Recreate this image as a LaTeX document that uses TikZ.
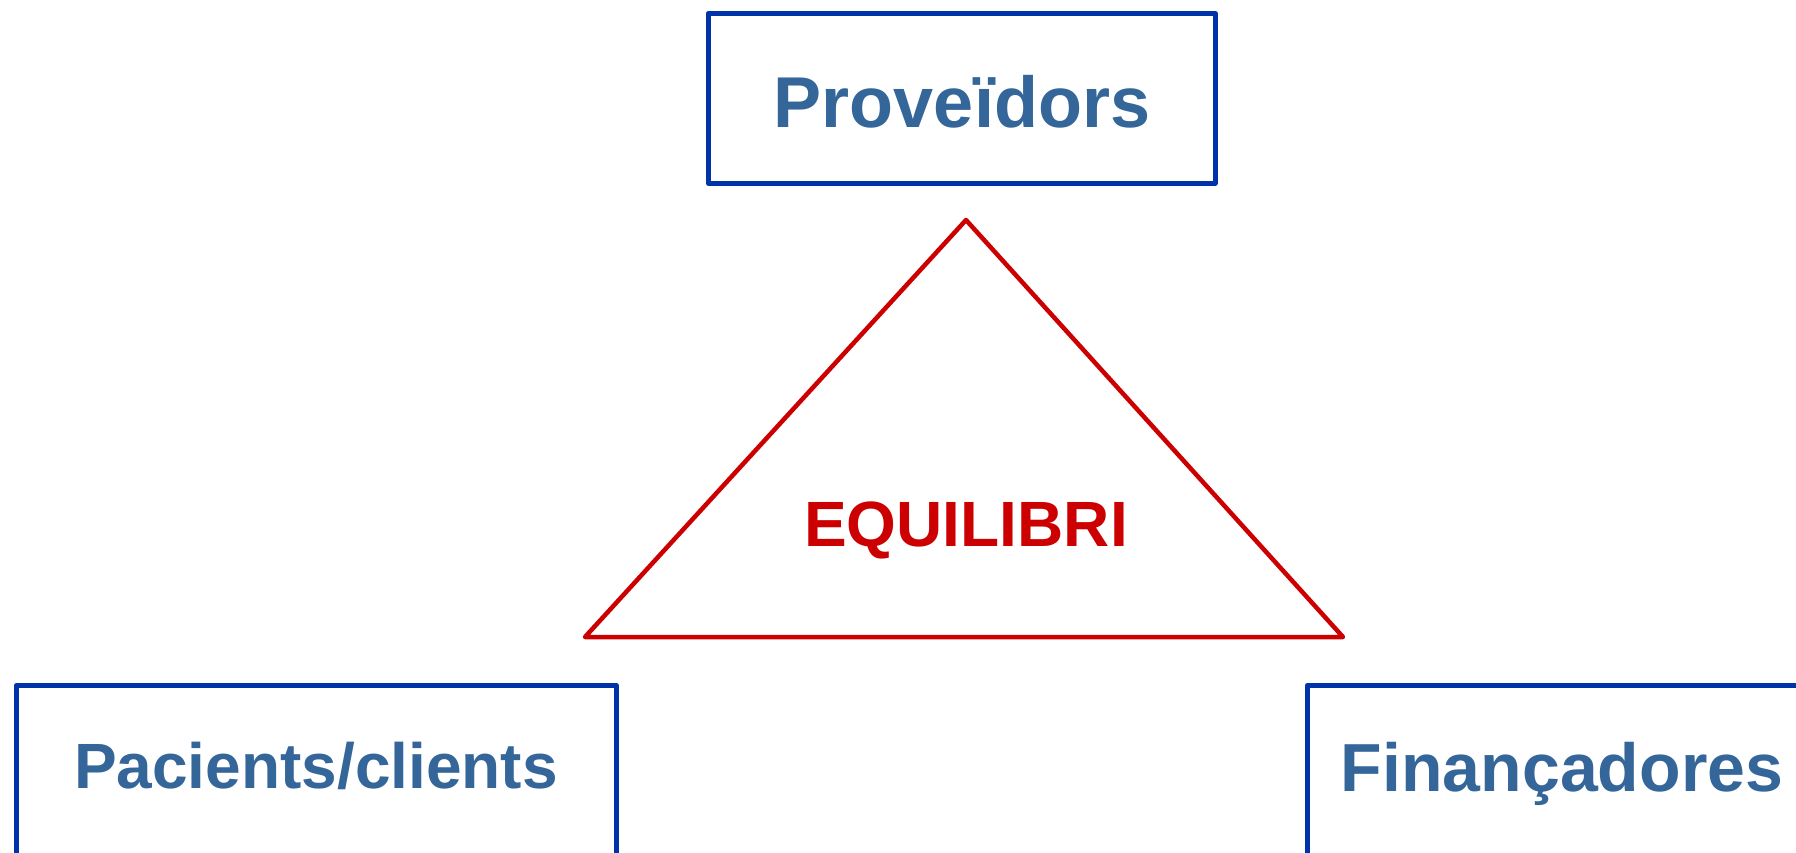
\documentclass[tikz,border=0pt]{standalone}
\usepackage{fontspec}
\setmainfont{Liberation Sans}
\definecolor{boxblue}{RGB}{0,51,170}
\definecolor{txtblue}{RGB}{52,102,153}
\definecolor{tred}{RGB}{204,0,0}
\tikzset{
  framebox/.style={draw=boxblue, line width=4.5pt, line join=round, inner sep=0pt, fill=none},
  lbl/.style={text=txtblue, font=\bfseries\fontsize{#1}{#1}\selectfont, inner sep=0pt, anchor=base},
  lbl/.default=64,
  tri/.style={draw=tred, line width=4.5pt, line join=round}
}
\begin{document}
\begin{tikzpicture}[x=1pt,y=-1pt]
\useasboundingbox (0,0) rectangle (1796,852);
\clip (0,0) rectangle (1796,852);
\fill[white] (0,0) rectangle (1796,852);
% boxes
\node[framebox, minimum width=507pt, minimum height=170pt, anchor=north west] (prov) at (706,11) {};
\node[framebox, minimum width=600pt, minimum height=260pt, anchor=north west] (pac) at (14,683) {};
\node[framebox, minimum width=510pt, minimum height=260pt, anchor=north west] (fin) at (1305,683) {};
% labels
\node[lbl=72] (provt) at (962,127) {Proveïdors};
\node[lbl=64] (pact) at (316,788) {Pacients/clients};
\node[lbl=68] (fint) at (1562,791) {Finançadores};
% triangle
\coordinate (apex) at (966,220);
\coordinate (bl) at (585,637);
\coordinate (br) at (1343,637);
\draw[tri] (apex) -- (br) -- (bl) -- cycle;
\node[text=tred, font=\bfseries\fontsize{64}{64}\selectfont, inner sep=0pt, anchor=base] (eq) at (966,546) {EQUILIBRI};
\end{tikzpicture}
\end{document}
